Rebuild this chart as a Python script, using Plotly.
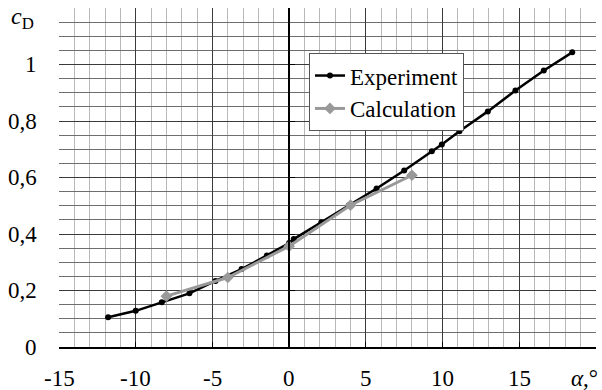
import plotly.graph_objects as go

exp_alpha = [-11.8, -10.0, -8.3, -6.5, -4.8, -3.1, -1.45, 0.0, 0.3, 2.1, 3.9, 5.7, 7.5, 9.3, 9.95, 11.1, 12.95, 14.75, 16.6, 18.45]
exp_cd = [0.105, 0.128, 0.158, 0.19, 0.234, 0.276, 0.324, 0.368, 0.382, 0.442, 0.502, 0.561, 0.625, 0.693, 0.717, 0.764, 0.834, 0.908, 0.979, 1.043]

calc_alpha = [-8.0, -4.0, 0.0, 4.0, 8.0]
calc_cd = [0.18, 0.246, 0.357, 0.502, 0.608]

x_ticks = [-15, -10, -5, 0, 5, 10, 15]
x_ticktext = ["-15", "-10", "-5", "0", "5", "10", "15"]
y_ticks = [0, 0.2, 0.4, 0.6, 0.8, 1.0]
y_ticktext = ["0", "0,2", "0,4", "0,6", "0,8", "1"]

FONT = "Liberation Serif"

fig = go.Figure()
fig.add_trace(go.Scatter(
    x=exp_alpha, y=exp_cd, name="Experiment", mode="lines+markers",
    line=dict(color="black", width=2.5),
    marker=dict(symbol="circle", size=6, color="black"),
))
fig.add_trace(go.Scatter(
    x=calc_alpha, y=calc_cd, name="Calculation", mode="lines+markers",
    line=dict(color="#999999", width=3),
    marker=dict(symbol="diamond", size=9, color="#999999"),
))
# invisible trace hosting the vertical axis drawn at alpha = 0
fig.add_trace(go.Scatter(x=[0], y=[0], yaxis="y2", mode="markers",
                         marker=dict(opacity=0), showlegend=False, hoverinfo="skip"))

fig.update_layout(
    width=602, height=390,
    margin=dict(l=59, r=6, t=8, b=43),
    paper_bgcolor="white", plot_bgcolor="white",
    font=dict(family=FONT, size=22, color="black"),
    showlegend=True,
    legend=dict(
        x=0.4655, y=0.867, xanchor="left", yanchor="top",
        bgcolor="white", bordercolor="#555555", borderwidth=1,
        font=dict(family=FONT, size=23, color="black"),
        itemwidth=30, tracegroupgap=0,
    ),
    xaxis=dict(
        range=[-15, 20], tickvals=x_ticks,
        showgrid=True, gridcolor="#3a3a3a", gridwidth=1,
        minor=dict(dtick=1, showgrid=True, gridcolor="#b8b8b8", gridwidth=1),
        zeroline=False,
        showline=True, linecolor="black", linewidth=1.5,
        ticks="inside", ticklen=5, tickcolor="black",
        showticklabels=False,
    ),
    yaxis=dict(
        range=[0, 1.2], tickvals=y_ticks + [1.2],
        showgrid=True, gridcolor="#3a3a3a", gridwidth=1,
        minor=dict(dtick=0.05, showgrid=True, gridcolor="#6e6e6e", gridwidth=1),
        zeroline=False, showline=False, ticks="",
        showticklabels=False,
    ),
    yaxis2=dict(
        range=[0, 1.2], overlaying="y", anchor="free", position=15 / 35, side="left",
        showline=True, linecolor="black", linewidth=2,
        ticks="inside", ticklen=5, tickcolor="black", tickvals=y_ticks,
        showticklabels=False, showgrid=False, zeroline=False,
    ),
)

# tick labels as text placed through the axes' own scales
for v, t in zip(x_ticks, x_ticktext):
    fig.add_annotation(
        text=t, x=v, xref="x", y=0, yref="paper",
        xanchor="center", yanchor="middle", yshift=-31, showarrow=False,
        font=dict(family=FONT, size=23, color="black"),
    )
for v, t in zip(y_ticks, y_ticktext):
    fig.add_annotation(
        text=t, x=0, xref="paper", y=v, yref="y",
        xanchor="right", yanchor="middle", xshift=-20, showarrow=False,
        font=dict(family=FONT, size=23, color="black"),
    )

fig.add_annotation(
    text="<i>c</i><sub>D</sub>", xref="paper", yref="paper",
    x=-0.042, y=0.97, xanchor="right", yanchor="middle", showarrow=False,
    font=dict(family=FONT, size=24, color="black"),
)
fig.add_annotation(
    text="<i>α</i>,°", xref="paper", yref="paper",
    x=1.008, y=-0.093, xanchor="right", yanchor="middle", showarrow=False,
    font=dict(family=FONT, size=23, color="black"),
)

fig.write_html("out.html")
